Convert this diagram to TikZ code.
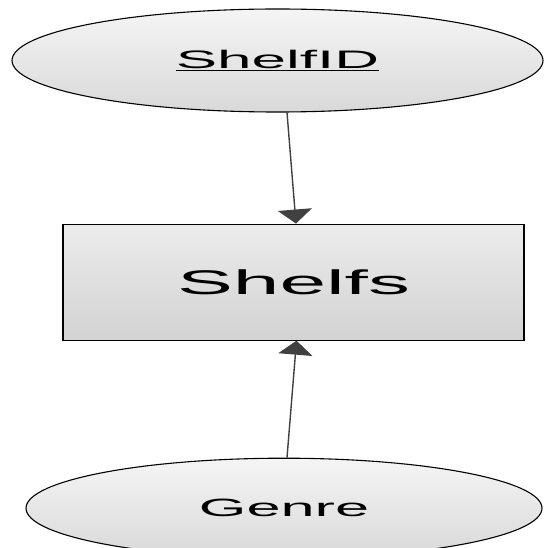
\documentclass[tikz,border=0pt]{standalone}
\usepackage{fontspec}
\setmainfont{Liberation Sans}
\usepackage{graphicx}
\usetikzlibrary{arrows.meta,positioning,shapes}

\newcommand{\wide}[1]{\scalebox{2.45}[1]{#1}}

\begin{document}
\begin{tikzpicture}[x=1pt,y=-1pt]
	\tikzstyle{attr}
	  =[draw, ellipse, line width=1.1pt, inner sep=0pt,
	  top color=gray!8, bottom color=gray!30]
	\tikzstyle{entity}
	  =[draw, rectangle, line width=1.1pt, inner sep=0pt,
	  minimum width=461pt, minimum height=116pt,
	  top color=gray!15, bottom color=gray!35]
	\tikzstyle{link}
	  =[draw=black!75, line width=1.4pt,
	  -{Triangle[width=34pt,length=14pt]}]

	\useasboundingbox (0,0) rectangle (545,548);

	\node[attr, minimum width=531pt, minimum height=103pt] (id)
	  at (277.5,60.5) {\fontsize{25.3}{30}\selectfont\wide{\underline{ShelfID}}};
	\node[entity] (shelfs)
	  [below=111pt of id, xshift=16pt] {\fontsize{34.2}{40}\selectfont\wide{Shelfs}};
	\node[attr, minimum width=516pt, minimum height=100pt] (genre)
	  [below=117pt of shelfs, xshift=-9.5pt] {\fontsize{25}{30}\selectfont\wide{Genre}};

	\draw[link] ([xshift=9.5pt]id.south) -- ([xshift=2.5pt]shelfs.north);
	\draw[link] ([xshift=3pt]genre.north) -- ([xshift=3pt]shelfs.south);
\end{tikzpicture}
\end{document}
